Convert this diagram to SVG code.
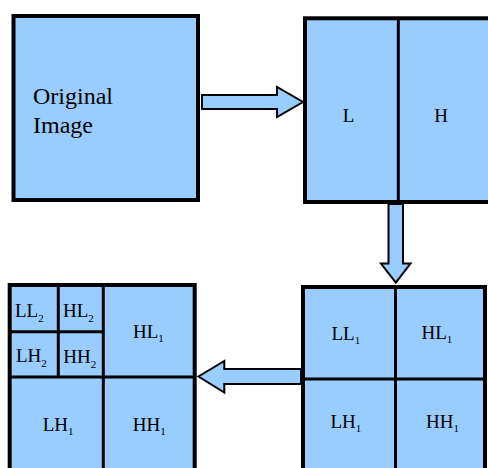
<svg xmlns="http://www.w3.org/2000/svg" width="488" height="468" viewBox="0 0 488 468">
<style>
.box{fill:#99ccff;stroke:#000;stroke-width:4}
.ln{stroke:#000;stroke-width:3;fill:none}
.arr{fill:#99ccff;stroke:#000;stroke-width:2;stroke-linejoin:miter}
text{font-family:"Liberation Serif","Times New Roman",serif;fill:#000}
.lb{font-size:19px}
.sub{font-size:11px}
</style>
<rect width="488" height="468" fill="#fff"/>
<g id="connectors">
<polygon class="arr" points="202,95 277,95 277,87 303,102 277,117 277,109 202,109"/>
<polygon class="arr" points="388.5,204 403,204 403,263.5 410.5,263.5 395.8,282.5 381,263.5 388.5,263.5"/>
<polygon class="arr" points="301,369 224.3,369 224.3,361 198.5,376.5 224.3,392.5 224.3,384 301,384"/>
</g>
<g id="original">
<rect class="box" x="13.5" y="16" width="184.5" height="184"/>
<text x="33" y="104" style="font-size:24px">Original</text>
<text x="33" y="133" style="font-size:24px">Image</text>
</g>
<g id="lh">
<rect class="box" x="305" y="18.3" width="190" height="183.7"/>
<line class="ln" x1="398.3" y1="18" x2="398.3" y2="202"/>
<text class="lb" x="342.7" y="121.7">L</text>
<text class="lb" x="434.3" y="121.7">H</text>
</g>
<g id="level1">
<rect class="box" x="303" y="287" width="182" height="200"/>
<line class="ln" x1="395.5" y1="287" x2="395.5" y2="470"/>
<line class="ln" x1="303" y1="379" x2="485" y2="379"/>
<text class="lb" x="331.5" y="340">LL<tspan class="sub" dy="4">1</tspan></text>
<text class="lb" x="421.5" y="338.5">HL<tspan class="sub" dy="4">1</tspan></text>
<text class="lb" x="330.5" y="428.3">LH<tspan class="sub" dy="4">1</tspan></text>
<text class="lb" x="426" y="428.3">HH<tspan class="sub" dy="4">1</tspan></text>
</g>
<g id="level2">
<rect class="box" x="9.7" y="285" width="185" height="200"/>
<line class="ln" x1="103.3" y1="285" x2="103.3" y2="470"/>
<line class="ln" x1="9.7" y1="377" x2="194.7" y2="377"/>
<line class="ln" x1="58.3" y1="285" x2="58.3" y2="377"/>
<line class="ln" x1="9.7" y1="331.7" x2="103.3" y2="331.7"/>
<text class="lb" x="15" y="317.3">LL<tspan class="sub" dy="5">2</tspan></text>
<text class="lb" x="63" y="317.3">HL<tspan class="sub" dy="5">2</tspan></text>
<text class="lb" x="16" y="361.7">LH<tspan class="sub" dy="5">2</tspan></text>
<text class="lb" x="63.3" y="363.3">HH<tspan class="sub" dy="5">2</tspan></text>
<text class="lb" x="133" y="338.3">HL<tspan class="sub" dy="4">1</tspan></text>
<text class="lb" x="42.7" y="430.7">LH<tspan class="sub" dy="4">1</tspan></text>
<text class="lb" x="132.7" y="430.7">HH<tspan class="sub" dy="4">1</tspan></text>
</g>
</svg>
